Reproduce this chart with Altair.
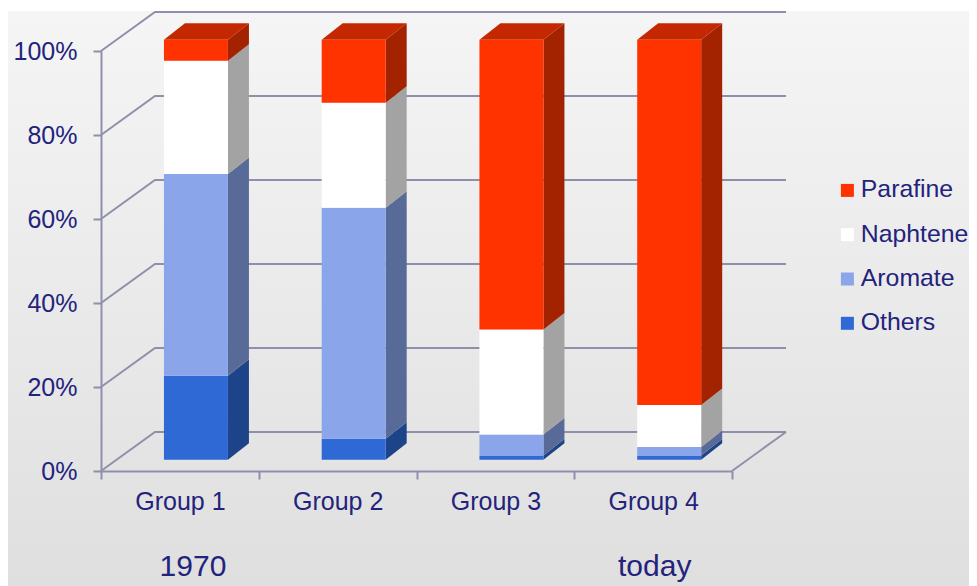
import altair as alt
import pandas as pd

groups = ["Group 1", "Group 2", "Group 3", "Group 4"]
series = ["Others", "Aromate", "Naphtene", "Parafine"]
others = [20, 5, 1, 1]
aromate = [48, 55, 5, 2]
naphtene = [27, 25, 25, 10]
parafine = [5, 15, 69, 87]
y_ticks = [0, 20, 40, 60, 80, 100]
eras = ["1970", "today"]
era_pos = [0.583, 3.51]

front_colors = ["#2f69d5", "#8aa5ea", "#ffffff", "#ff3300"]
side_colors = ["#1d4388", "#586a98", "#a3a3a3", "#a32200"]
top_color = "#c42800"
navy = "#23237c"
line_color = "#8f8fab"
FONT = "Liberation Sans"

W, H = 631, 420
LEFT, TOP = 93, 40
CW, CH = 961, 576

# oblique projection of depth, in data units
wall_dx, wall_dy = 54 / 157.75, 39 / 4.2
bar_dx, bar_dy = 21 / 157.75, 16.5 / 4.2
bar_left, bar_w, bar_base = 0.399, 0.4057, 2.7

values = [others, aromate, naphtene, parafine]
fronts, sides, tops = [], [], []
for g in range(4):
    base = 0.0
    xl = g + bar_left
    xr = xl + bar_w
    for s, name in enumerate(series):
        v = values[s][g]
        lo, hi = bar_base + base, bar_base + base + v
        fronts.append(dict(x=xl, x2=xr, y=lo, y2=hi, series=name))
        sid = f"{g}-{s}"
        sides.append(dict(id=sid, x=xr, y=lo, y2=hi, shade=side_colors[s]))
        sides.append(dict(id=sid, x=xr + bar_dx, y=lo + bar_dy, y2=hi + bar_dy, shade=side_colors[s]))
        base += v
    top_y = bar_base + base
    tops.append(dict(id=g, x=xl, x2=xr, y=top_y, shade=top_color))
    tops.append(dict(id=g, x=xl + bar_dx, x2=xr + bar_dx, y=top_y + bar_dy, shade=top_color))

wall = []
for t in y_ticks:
    wall.append(dict(id=f"o{t}", x=0, y=t))
    wall.append(dict(id=f"o{t}", x=wall_dx, y=t + wall_dy))
    wall.append(dict(id=f"o{t}", x=4 + wall_dx, y=t + wall_dy))
wall.append(dict(id="edge", x=4, y=0))
wall.append(dict(id="edge", x=4 + wall_dx, y=wall_dy))

xs = alt.Scale(domain=[0, 4], nice=False, zero=False)
ys = alt.Scale(domain=[0, 100], nice=False, zero=False)

y_axis = alt.Axis(
    title=None, values=y_ticks, labelExpr="datum.value + '%'", tickSize=8, tickWidth=2, domainWidth=2,
    domainColor=line_color, tickColor=line_color, labelColor=navy, labelFont=FONT,
    labelFontSize=25, labelPadding=16, grid=False, zindex=1,
)

bg = alt.Chart(pd.DataFrame({"a": [0]})).mark_rect(
    fill=alt.Gradient(
        gradient="linear", x1=0, x2=0, y1=0, y2=1,
        stops=[alt.GradientStop(color="#f5f5f5", offset=0), alt.GradientStop(color="#dfdfdf", offset=1)],
    )
).encode(
    x=alt.value(-LEFT), x2=alt.value(CW - LEFT), y=alt.value(-TOP), y2=alt.value(CH - TOP)
)

axes = alt.Chart(pd.DataFrame({"group": groups, "v": [0, 0, 0, 0]})).mark_point(opacity=0).encode(
    x=alt.X(
        "group:N",
        sort=groups,
        scale=alt.Scale(type="band", domain=groups, paddingInner=0, paddingOuter=0),
        axis=alt.Axis(
            title=None, tickBand="extent", labelAngle=0, tickSize=8, tickWidth=2, domainWidth=2,
            domainColor=line_color, tickColor=line_color, labelColor=navy, labelFont=FONT,
            labelFontSize=25, labelPadding=10, grid=False, zindex=1,
        ),
    ),
    y=alt.Y("v:Q", scale=ys, axis=y_axis),
)

lines = alt.Chart(pd.DataFrame(wall)).mark_line(color=line_color, strokeWidth=2).encode(
    x=alt.X("x:Q", scale=xs, axis=None),
    y=alt.Y("y:Q", scale=ys, axis=y_axis),
    detail="id:N",
    order=alt.Order("x:Q"),
)

side = alt.Chart(pd.DataFrame(sides)).mark_area(orient="vertical").encode(
    x=alt.X("x:Q", scale=xs, axis=None),
    y=alt.Y("y:Q", scale=ys, axis=y_axis),
    y2="y2:Q",
    detail="id:N",
    fill=alt.Fill("shade:N", scale=None),
)

top = alt.Chart(pd.DataFrame(tops)).mark_area(orient="horizontal").encode(
    y=alt.Y("y:Q", scale=ys, axis=y_axis),
    x=alt.X("x:Q", scale=xs, axis=None),
    x2="x2:Q",
    detail="id:N",
    fill=alt.Fill("shade:N", scale=None),
)

front = alt.Chart(pd.DataFrame(fronts)).mark_rect().encode(
    x=alt.X("x:Q", scale=xs, axis=None),
    x2="x2:Q",
    y=alt.Y("y:Q", scale=ys, axis=y_axis),
    y2="y2:Q",
    color=alt.Color(
        "series:N",
        sort=series[::-1],
        scale=alt.Scale(domain=series[::-1], range=front_colors[::-1]),
        legend=alt.Legend(
            title=None, orient="none", legendX=734, legendY=127, padding=0,
            symbolType="square", symbolSize=169, symbolStrokeWidth=0, symbolOpacity=1,
            labelColor=navy, labelFont=FONT, labelFontSize=24.8, labelOffset=1,
            rowPadding=18.3, labelLimit=200, zindex=2,
        ),
    ),
)

era = alt.Chart(pd.DataFrame({"x": era_pos, "y": [-22.8, -22.8], "t": eras})).mark_text(
    color=navy, font=FONT, fontSize=30, align="center", baseline="middle"
).encode(
    x=alt.X("x:Q", scale=xs, axis=None),
    y=alt.Y("y:Q", scale=ys, axis=y_axis),
    text="t:N",
)

chart = (
    alt.layer(bg, axes, lines, side, top, front, era)
    .resolve_scale(x="independent")
    .properties(width=W, height=H, padding=0)
    .configure_view(stroke=None)
)

chart.save("out.html", embed_options={"renderer": "svg", "actions": False})
